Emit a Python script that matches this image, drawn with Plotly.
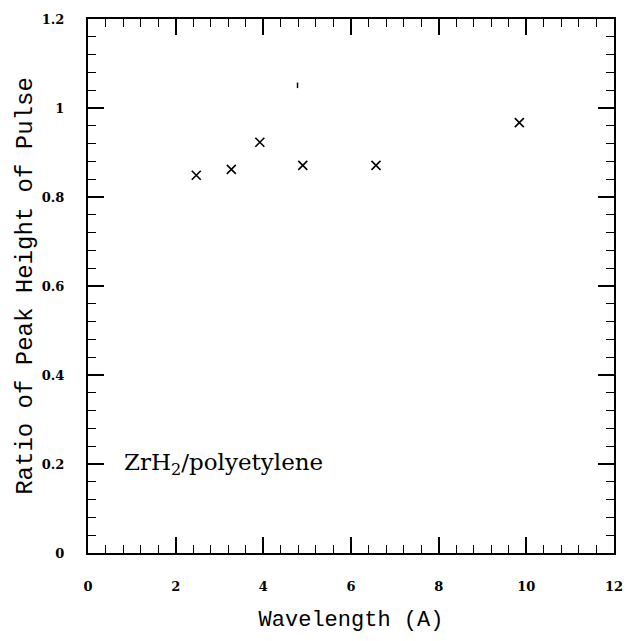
import plotly.graph_objects as go

wavelength = [2.47, 3.27, 3.92, 4.90, 6.57, 9.84]
ratio = [0.849, 0.862, 0.923, 0.871, 0.871, 0.967]
speck_x = [4.78]
speck_y = [1.051]

x_ticks = [0, 2, 4, 6, 8, 10, 12]
y_ticks = [0, 0.2, 0.4, 0.6, 0.8, 1.0, 1.2]
y_tick_text = ["0", "0.2", "0.4", "0.6", "0.8", "1", "1.2"]

fig = go.Figure()
fig.add_trace(go.Scatter(
    x=wavelength, y=ratio, mode="markers",
    marker=dict(symbol="x-thin-open", size=9, color="black",
                line=dict(color="black", width=1.6)),
    showlegend=False))
fig.add_trace(go.Scatter(
    x=speck_x, y=speck_y, mode="markers",
    marker=dict(symbol="line-ns-open", size=4, color="black",
                line=dict(color="black", width=1.5)),
    showlegend=False))

tickfont = dict(family="DejaVu Serif", size=13, color="black", weight="bold")
xtitlefont = dict(family="Courier New, Liberation Mono, monospace", size=22, color="black")
ytitlefont = dict(family="Courier New, Liberation Mono, monospace", size=24, color="black")

fig.update_layout(
    width=635, height=641,
    margin=dict(l=88, r=20, t=14, b=88),
    paper_bgcolor="white", plot_bgcolor="white",
    xaxis=dict(
        range=[0, 12], tickvals=x_ticks, ticktext=[str(v) for v in x_ticks],
        ticks="inside", ticklen=16, tickwidth=1.5, tickcolor="black",
        minor=dict(dtick=0.4, tick0=0, ticks="inside", ticklen=8, tickwidth=1.2, tickcolor="black"),
        showline=True, linecolor="black", linewidth=2, mirror="ticks",
        showgrid=False, zeroline=False,
        tickfont=tickfont, ticklabelstandoff=20,
        title=dict(text="Wavelength (A)", font=xtitlefont, standoff=18),
    ),
    yaxis=dict(
        range=[0, 1.2], tickvals=y_ticks, ticktext=y_tick_text,
        ticks="inside", ticklen=16, tickwidth=1.5, tickcolor="black",
        minor=dict(dtick=0.04, tick0=0, ticks="inside", ticklen=8, tickwidth=1.2, tickcolor="black"),
        showline=True, linecolor="black", linewidth=2, mirror="ticks",
        showgrid=False, zeroline=False,
        tickfont=tickfont, ticklabelstandoff=19,
        title=dict(text="Ratio of Peak Height of Pulse", font=ytitlefont, standoff=2),
    ),
    annotations=[dict(
        x=0.78, y=0.2, xref="x", yref="y", xanchor="left", yanchor="middle",
        text="ZrH<sub>2</sub>/polyetylene", showarrow=False,
        font=dict(family="DejaVu Serif", size=23, color="black"))],
)

fig.write_html("out.html")
